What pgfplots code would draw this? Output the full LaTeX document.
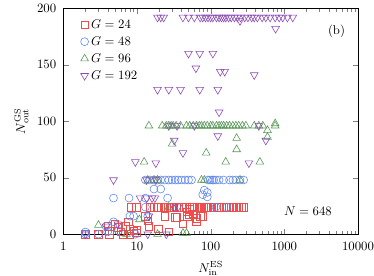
\documentclass[border=0pt]{standalone}
\usepackage{pgfplots}
\pgfplotsset{compat=1.18}
\definecolor{cR}{RGB}{242,75,75}
\definecolor{cB}{RGB}{95,135,240}
\definecolor{cG}{RGB}{85,150,85}
\definecolor{cP}{RGB}{140,75,180}
\begin{document}
\begin{tikzpicture}
\begin{axis}[
  scale only axis, width=231pt, height=177pt,
  xmode=log, xmin=1, xmax=10000, ymin=0, ymax=200,
  ytick={0,50,100,150,200},
  xtick={1,10,100,1000,10000},
  xticklabels={1,10,100,1000,10000},
  xticklabel style={inner sep=0pt, yshift=-6pt},
  yticklabel style={xshift=-2pt},
  xlabel={$N^{\mathrm{ES}}_{\mathrm{in}}$},
  ylabel={$N^{\mathrm{GS}}_{\mathrm{out}}$},
  xlabel style={inner sep=0pt, yshift=-8pt},
  ylabel style={yshift=0pt},
  legend style={draw=none, fill=none, at={(0.045,0.975)}, anchor=north west, row sep=1pt},
  legend image code/.code={\draw[mark repeat=2,mark phase=2,#1] plot coordinates {(0cm,0cm)(0.3cm,0cm)(0.65cm,0cm)};},
  legend cell align=left,
  clip=false,
]
\addplot[only marks, mark=square, mark size=2.9pt, cR, mark options={line width=0.45pt}] coordinates {
(2,0)(3,0)(4.2,0)(4,7)(4.2,3)(5,9)(5.5,6)(6,2)(6.5,0)(7,7)(7.6,11)(8,5)(8,0)(9,3)(9.8,1)(10,4)
(8.4,24)(9.8,24)(13,16)(14,12)(14.5,7)(15,24)(17,24)(19.5,5)(19,24)(21,24)(23,24)(24,16)(25,24)(27,2)(28,24)(30,24)
(33,15)(34,24)(35,15)(37,24)(40,24)(42,9)(44,24)(47,20)(48,16)(50,17)(52,22)(52,24)(56,24)(58,18)(60,24)(64,11)(65,14)(66,24)(70,24)(72,16)
(75,24)(78,16)(80,24)(86,24)(92,24)(100,24)(110,24)(120,24)(130,24)(140,24)(150,24)(165,24)(180,24)(200,24)(220,24)(240,24)(260,24)(280,24)
};
\addlegendentry{$G=24$}
\addplot[only marks, mark=o, mark size=3.1pt, cB, mark options={line width=0.45pt}] coordinates {
(2,0)(2,2)(3,0)(4,2)(3.8,7)(4.8,11)(5.6,3)(4.8,32)(7.8,32)(8,16)(9,16)(9.5,0)(13,24)(13,32)(14,16)(17,40)(21,40)(26,32)
(13,48)(15,48)(17,48)(19,48)(21,48)(24,48)(27,48)(30,48)(33,48)(36,48)(40,48)(45,48)(50,48)(55,48)
(78,35)(82,39)(90,37)(90,33)(92,48)(98,48)(105,48)(110,48)(118,48)(130,48)(150,48)(180,48)(200,48)(220,48)(250,48)(280,48)
(118,24)(165,24)
};
\addlegendentry{$G=48$}
\addplot[only marks, mark=triangle, mark size=3.5pt, cG, mark options={line width=0.45pt}] coordinates {
(3,8)(7.2,0)(10.8,13)(19,0)(42,1)(47,1)(27,24)(14,48)(17,48)(19,48)(75,48)(82,48)(250,48)
(12.5,64)(160,64)(465,64)(30,80)(87,72)(225,85)(225,75)(590,92)(590,86)(750,98)
(14.5,96)(22,96)(25,96)(27,96)(29,96)(31,96)(34,96)(39,96)(47,96)(52,96)(58,96)(64,96)(70,96)(75,96)(82,96)(90,96)(100,96)(107,96)
(120,96)(130,96)(140,96)(150,96)(165,96)(180,96)(200,96)(220,96)(240,96)(270,96)(300,96)(390,96)(450,96)(510,96)(750,96)
};
\addlegendentry{$G=96$}
\addplot[only marks, mark=triangle, mark size=3.5pt, cP, mark options={rotate=180, line width=0.45pt}] coordinates {
(19,192)(21,192)(23,192)(42,192)(50,192)(60,192)(72,192)(78,192)(85,192)(92,192)(100,192)(107,192)(120,192)(130,192)(140,192)(150,192)(160,192)(175,192)(190,192)(210,192)(230,192)(255,192)
(290,192)(320,192)(360,192)(390,192)(430,192)(500,192)(560,192)(640,192)(750,192)(850,192)(950,192)(1100,192)(1300,192)
(250,189)(760,182)(50,160)(71,160)(107,160)(63,147)(135,144)(155,144)(390,141)
(19,128)(27,128)(39,128)(71,128)(125,128)(130,108)(125,87)(32,83)(42,72)(18,63)(9.5,64)(330,63)(560,83)
(27,96)(35,96)(60,96)(450,96)
(4.8,48)(13.5,48)(18,48)(11,32)(13.5,32)(16,32)(17.5,32)(32,24)(36,24)(14,0)(25,0)(3.8,7)(2,0)(14.5,16)(5.5,9)
};
\addlegendentry{$G=192$}
\node at (rel axis cs:0.927,0.9) {(b)};
\node at (rel axis cs:0.83,0.104) {$N=648$};
\end{axis}
\path ([xshift=-8pt]current bounding box.west);
\end{tikzpicture}
\end{document}
